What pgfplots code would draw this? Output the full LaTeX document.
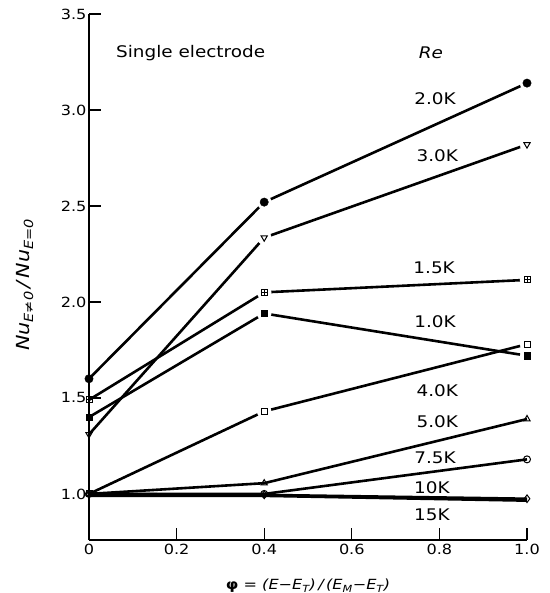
\documentclass[border=0pt]{standalone}
\usepackage{pgfplots}
\usepackage{pgfplotstable}
\pgfplotsset{compat=1.18}
\usepackage{fontspec}
\setmainfont{DejaVu Sans}[FakeStretch=1.15]
\usetikzlibrary{plotmarks}

% Nu ratio against phi for each Reynolds number
\pgfplotstableread{
x   y
0   1.60
0.4 2.52
1   3.14
}\reA % 2.0K
\pgfplotstableread{
x   y
0   1.31
0.4 2.335
1   2.82
}\reB % 3.0K
\pgfplotstableread{
x   y
0   1.49
0.4 2.05
1   2.115
}\reC % 1.5K
\pgfplotstableread{
x   y
0   1.40
0.4 1.94
1   1.72
}\reD % 1.0K
\pgfplotstableread{
x   y
0   1.00
0.4 1.43
1   1.78
}\reE % 4.0K
\pgfplotstableread{
x   y
0   1.00
0.4 1.056
1   1.39
}\reF % 5.0K
\pgfplotstableread{
x   y
0   1.00
0.4 1.00
1   1.18
}\reG % 7.5K
\pgfplotstableread{
x   y
0   1.00
0.4 0.995
1   0.975
}\reH % 10K
\pgfplotstableread{
x   y
0   0.99
0.4 0.99
1   0.965
}\reI % 15K

\begin{document}
\begin{tikzpicture}
\begin{axis}[
  scale only axis, width=438pt, height=526pt,
  xmin=0, xmax=1, ymin=0.76, ymax=3.5,
  axis lines*=left,
  axis line style={line width=1.4pt,-},
  xtick={0,0.2,0.4,0.6,0.8,1.0},
  xticklabels={0,0.2,0.4,0.6,0.8,1.0},
  ytick={1,1.5,2,2.5,3,3.5},
  yticklabels={1.0,1.5,2.0,2.5,3.0,3.5},
  tick align=inside, major tick length=12pt,
  tick style={line width=1.2pt, black},
  ticklabel style={font=\fontsize{14}{16}\selectfont},
  xticklabel style={yshift=-1pt},
  yticklabel style={xshift=1pt},
  clip=false,
  curve/.style={line width=2.6pt, black, no marks},
  halo/.style={only marks, mark=*, mark size=7pt, white, forget plot,
    mark options={draw=white, fill=white}},
  pt/.style={only marks, black, mark options={solid, line width=1pt, fill=white}},
]
% lines
\addplot[curve] table {\reA};
\addplot[curve] table {\reB};
\addplot[curve] table {\reC};
\addplot[curve] table {\reD};
\addplot[curve] table {\reE};
\addplot[curve] table {\reF};
\addplot[curve] table {\reG};
\addplot[curve] table {\reH};
\addplot[curve] table {\reI};

% small breaks where the upper curves meet their symbols
\addplot[halo] coordinates {(0.4,2.52) (1,3.14) (0.4,2.335) (1,2.82)
  (0.4,2.05) (1,2.115) (0.4,1.94) (1,1.72) (0.4,1.43) (1,1.78)};

% symbols
\addplot[pt, mark=*, mark size=4.2pt, mark options={fill=black}] table {\reA};
\addplot[pt, mark=triangle, mark size=3.6pt,
  mark options={solid, line width=1pt, fill=white, rotate=180}] table {\reB};
\addplot[pt, mark=square, mark size=3pt] table {\reC};
\addplot[pt, mark=+, mark size=3pt] table {\reC};
\addplot[pt, mark=square*, mark size=3.2pt, mark options={fill=black}] table {\reD};
\addplot[pt, mark=square, mark size=3pt] table {\reE};
\addplot[pt, mark=triangle, mark size=3.6pt] table {\reF};
\addplot[pt, mark=o, mark size=3.5pt] table {\reG};
\addplot[pt, mark=diamond, mark size=3.8pt] table {\reH};

\begin{scope}[every node/.style={font=\fontsize{16}{18}\selectfont}]
\node at (axis cs:0.232,3.296) {Single electrode};
\node[anchor=west] at (axis cs:0.745,3.296) {\itshape Re};
\node at (axis cs:0.790,3.06) {2.0K};
\node at (axis cs:0.795,2.76) {3.0K};
\node at (axis cs:0.788,2.18) {1.5K};
\node at (axis cs:0.790,1.896) {1.0K};
\node at (axis cs:0.795,1.54) {4.0K};
\node at (axis cs:0.795,1.375) {5.0K};
\node at (axis cs:0.790,1.1875) {7.5K};
\node at (axis cs:0.783,1.031) {10K};
\node at (axis cs:0.783,0.89) {15K};
\end{scope}

% axis titles
\node[rotate=90, font=\fontsize{18}{20}\selectfont\itshape]
  at ([xshift=-64pt]axis cs:0,2.09)
  {Nu\textsubscript{E≠0}\,/\,Nu\textsubscript{E=0}};
\node[font=\fontsize{14}{16}\selectfont]
  at ([yshift=-46pt]axis cs:0.5,0.76)
  {{\bfseries φ} = {\itshape (E−E\textsubscript{T})\,/\,(E\textsubscript{M}−E\textsubscript{T})}};
\end{axis}
\pgfresetboundingbox
\path[use as bounding box]
  ([shift={(-89pt,-53pt)}]current axis.south west)
  rectangle ([shift={(23pt,14pt)}]current axis.north east);
\end{tikzpicture}
\end{document}
